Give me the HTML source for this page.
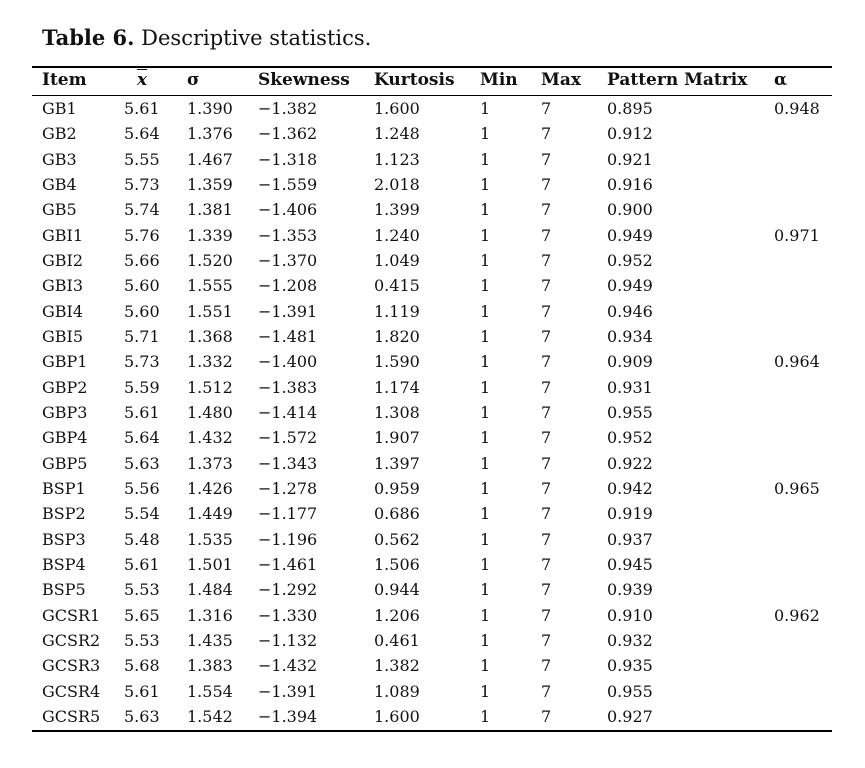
<!DOCTYPE html><html><head><style>
body{margin:0;width:865px;height:768px;background:#fff;font-family:"DejaVu Serif",serif;color:#111;position:relative;overflow:hidden}
.t{position:absolute;left:42px;top:24px;font-size:21px;line-height:28px}
.r{position:absolute;left:32px;width:800px;background:#000}
.row{position:absolute;left:0;height:25px;line-height:25px;font-size:16px;width:865px}
.row span{position:absolute;white-space:nowrap}
.h{font-weight:bold;font-size:17px}
</style></head><body>
<div class="t"><b>Table 6.</b> Descriptive statistics.</div>
<div class="r" style="top:66px;height:2px"></div>
<div class="r" style="top:95px;height:1px"></div>
<div class="r" style="top:730px;height:2px"></div>
<div id="c"></div>
<script>
var xs=[42,124,187,258,374,480,541,607,774];
var rows=[["Item","<span style='text-decoration:overline'><i>x</i></span>","σ","Skewness","Kurtosis","Min","Max","Pattern Matrix","α"],
["GB1","5.61","1.390","−1.382","1.600","1","7","0.895","0.948"],
["GB2","5.64","1.376","−1.362","1.248","1","7","0.912",""],
["GB3","5.55","1.467","−1.318","1.123","1","7","0.921",""],
["GB4","5.73","1.359","−1.559","2.018","1","7","0.916",""],
["GB5","5.74","1.381","−1.406","1.399","1","7","0.900",""],
["GBI1","5.76","1.339","−1.353","1.240","1","7","0.949","0.971"],
["GBI2","5.66","1.520","−1.370","1.049","1","7","0.952",""],
["GBI3","5.60","1.555","−1.208","0.415","1","7","0.949",""],
["GBI4","5.60","1.551","−1.391","1.119","1","7","0.946",""],
["GBI5","5.71","1.368","−1.481","1.820","1","7","0.934",""],
["GBP1","5.73","1.332","−1.400","1.590","1","7","0.909","0.964"],
["GBP2","5.59","1.512","−1.383","1.174","1","7","0.931",""],
["GBP3","5.61","1.480","−1.414","1.308","1","7","0.955",""],
["GBP4","5.64","1.432","−1.572","1.907","1","7","0.952",""],
["GBP5","5.63","1.373","−1.343","1.397","1","7","0.922",""],
["BSP1","5.56","1.426","−1.278","0.959","1","7","0.942","0.965"],
["BSP2","5.54","1.449","−1.177","0.686","1","7","0.919",""],
["BSP3","5.48","1.535","−1.196","0.562","1","7","0.937",""],
["BSP4","5.61","1.501","−1.461","1.506","1","7","0.945",""],
["BSP5","5.53","1.484","−1.292","0.944","1","7","0.939",""],
["GCSR1","5.65","1.316","−1.330","1.206","1","7","0.910","0.962"],
["GCSR2","5.53","1.435","−1.132","0.461","1","7","0.932",""],
["GCSR3","5.68","1.383","−1.432","1.382","1","7","0.935",""],
["GCSR4","5.61","1.554","−1.391","1.089","1","7","0.955",""],
["GCSR5","5.63","1.542","−1.394","1.600","1","7","0.927",""]];
var h="";
rows.forEach(function(r,i){
 var top=i==0?68:96+(i-1)*25.33;
 h+='<div class="row'+(i==0?' h':'')+'" style="top:'+top+'px">';
 r.forEach(function(v,j){var x=xs[j];if(i==0&&j==1)x=137;h+='<span style="left:'+x+'px">'+v+'</span>';});
 h+='</div>';
});
document.getElementById("c").innerHTML=h;
</script>
</body></html>
